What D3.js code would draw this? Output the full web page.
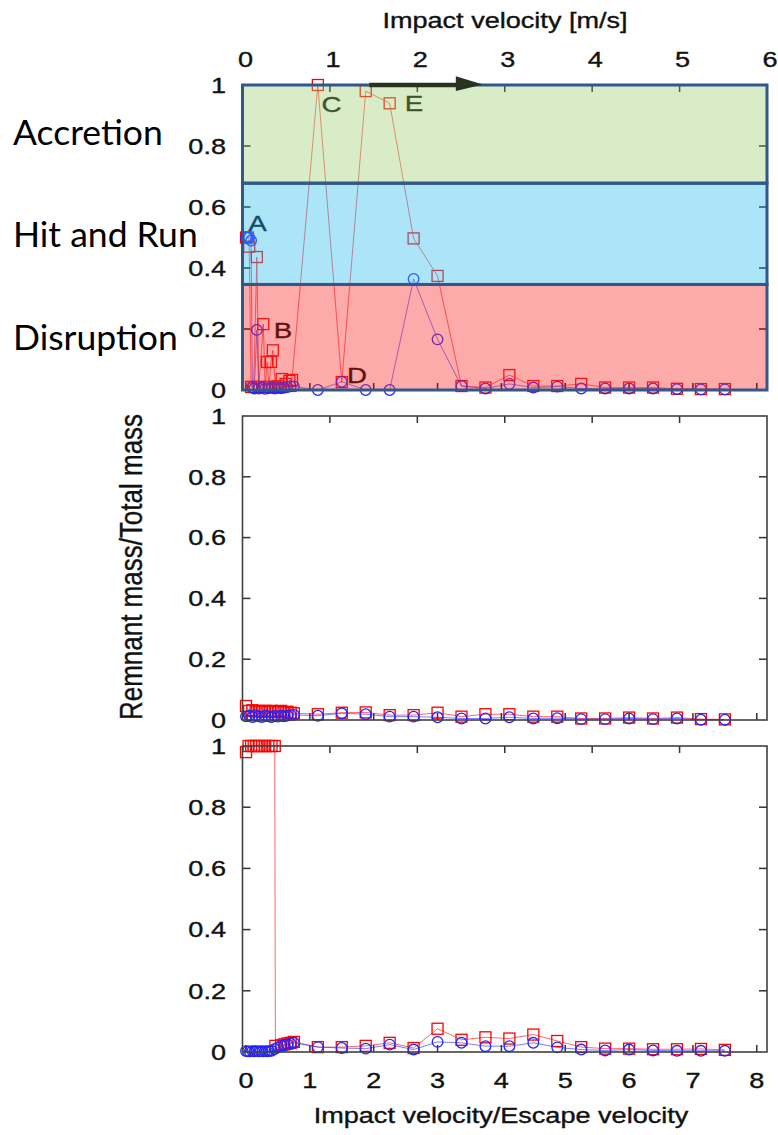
<!DOCTYPE html>
<html>
<head>
<meta charset="utf-8">
<script src="https://cdn.jsdelivr.net/npm/d3@7"></script>
<style>
  html, body { margin: 0; padding: 0; background: #fff; }
  svg { display: block; }
</style>
</head>
<body>
<script>
// ---- Data -------------------------------------------------------------
// Impact velocity / escape velocity for the regular runs
const vHigh = [1.125, 1.5, 1.875, 2.25, 2.625, 3, 3.375, 3.75, 4.125, 4.5, 4.875, 5.25, 5.625, 6, 6.375, 6.75, 7.125, 7.5];

// Panel 1 (regime map)
const topRedLowX  = [0, 0.03, 0.05, 0.08, 0.12, 0.17, 0.2, 0.27, 0.3, 0.33, 0.36, 0.39, 0.42, 0.46, 0.5, 0.56, 0.62, 0.68, 0.72];
const topRedLowY  = [0.5, 0.5, 0.47, 0.01, 0.01, 0.436, 0.01, 0.216, 0.01, 0.092, 0.01, 0.092, 0.13, 0.01, 0.012, 0.036, 0.02, 0.03, 0.033];
const topRedHighY = [1.0, 0.026, 0.98, 0.94, 0.497, 0.374, 0.013, 0.008, 0.049, 0.013, 0.013, 0.02, 0.008, 0.008, 0.008, 0.004, 0.003, 0.003];
const topBlueLowX  = [0, 0.02, 0.05, 0.08, 0.1, 0.13, 0.17, 0.2, 0.25, 0.3, 0.35, 0.4, 0.45, 0.5, 0.55, 0.6, 0.65, 0.7, 0.75];
const topBlueLowY  = [0.5, 0.5, 0.5, 0.49, 0.008, 0.005, 0.197, 0.005, 0.008, 0.004, 0.006, 0.008, 0.005, 0.007, 0.006, 0.008, 0.01, 0.012, 0.012];
const topBlueHighY = [0, 0.027, 0, 0, 0.364, 0.166, 0.013, 0.005, 0.02, 0.008, 0.011, 0.005, 0.005, 0.005, 0.005, 0.003, 0.002, 0.002];

// Panel 2
const midLowX      = [0, 0.05, 0.1, 0.15, 0.2, 0.25, 0.3, 0.35, 0.4, 0.45, 0.5, 0.55, 0.6, 0.65, 0.7, 0.75];
const midRedLowY   = [0.046, 0.03, 0.032, 0.028, 0.03, 0.027, 0.03, 0.028, 0.03, 0.026, 0.028, 0.03, 0.025, 0.027, 0.024, 0.022];
const midBlueLowY  = [0.012, 0.014, 0.01, 0.015, 0.012, 0.01, 0.014, 0.012, 0.01, 0.013, 0.011, 0.014, 0.012, 0.015, 0.016, 0.017];
const midRedHighY  = [0.019, 0.024, 0.025, 0.016, 0.016, 0.024, 0.011, 0.019, 0.019, 0.011, 0.011, 0.005, 0.005, 0.008, 0.005, 0.008, 0.003, 0.002];
const midBlueHighY = [0.014, 0.022, 0.019, 0.011, 0.011, 0.009, 0.005, 0.005, 0.009, 0.005, 0.006, 0.003, 0.003, 0.005, 0.003, 0.005, 0.001, 0.001];

// Panel 3
const botRedLowX   = [0, 0.04, 0.08, 0.12, 0.16, 0.2, 0.25, 0.3, 0.35, 0.4, 0.45, 0.46, 0.55, 0.6, 0.65, 0.7, 0.75];
const botRedLowY   = [0.98, 1, 1, 1, 1, 1, 1, 1, 1, 1, 1, 0.02, 0.022, 0.025, 0.028, 0.03, 0.033];
const botBlueLowX  = [0, 0.03, 0.06, 0.1, 0.13, 0.16, 0.2, 0.23, 0.26, 0.3, 0.33, 0.36, 0.4, 0.45, 0.5, 0.55, 0.6, 0.65, 0.7, 0.75];
const botBlueLowY  = [0.003, 0.002, 0.002, 0.003, 0.002, 0.003, 0.002, 0.003, 0.002, 0.003, 0.002, 0.003, 0.004, 0.01, 0.015, 0.02, 0.022, 0.025, 0.027, 0.03];
const botRedHighY  = [0.016, 0.016, 0.02, 0.03, 0.013, 0.076, 0.04, 0.048, 0.044, 0.057, 0.036, 0.016, 0.011, 0.011, 0.009, 0.009, 0.01, 0.007];
const botBlueHighY = [0.016, 0.013, 0.011, 0.024, 0.008, 0.033, 0.03, 0.019, 0.019, 0.03, 0.015, 0.008, 0.005, 0.008, 0.005, 0.004, 0.004, 0.004];

// Axis ticks and labels
const xTicks  = [0, 1, 2, 3, 4, 5, 6, 7, 8];
const x2Ticks = [0, 1, 2, 3, 4, 5, 6];
const yTicks  = [0, 0.2, 0.4, 0.6, 0.8, 1];
const yTickLabels = ["0", "0.2", "0.4", "0.6", "0.8", "1"];

// Regime bands on panel 1 (lower, upper) and their names
const bandNames  = ["Disruption", "Hit and Run", "Accretion"];
const bandLimits = [[0, 0.346], [0.346, 0.678], [0.678, 1]];
const bandTint   = ["rgb(248,43,43)", "rgb(48,188,238)", "rgb(158,208,118)"];

// Case markers on panel 1
const caseNames = ["A", "B", "C", "D", "E"];
const caseX     = [0.18, 0.58, 1.34, 1.74, 2.63];
const caseY     = [0.548, 0.197, 0.937, 0.049, 0.94];

// ---- Layout ------------------------------------------------------------
const W = 778, H = 1135;
const frameL = 242.5, frameR = 767;
const panels = [
  { top: 85,  bottom: 390 },
  { top: 416, bottom: 720 },
  { top: 746, bottom: 1052 }
];
const SX = 1.26;                 // horizontal stretch of the plot lettering
const FONT = "'Liberation Sans', Arial, Helvetica, sans-serif";
const RED = "rgb(255,0,0)", BLUE = "rgb(35,35,255)";

const svg = d3.select("body").append("svg")
  .attr("width", W).attr("height", H)
  .attr("viewBox", `0 0 ${W} ${H}`);
svg.append("rect").attr("width", W).attr("height", H).attr("fill", "#fff");

const x  = d3.scaleLinear().domain([-0.055, 8.16]).range([frameL, frameR]);
const x2 = d3.scaleLinear().domain([0, 6]).range([frameL, frameR]);

function stretchedText(g, px, py, str, size, anchor, fill) {
  const col = fill || "#111";
  return g.append("text")
    .attr("transform", `translate(${px},${py}) scale(${SX},1)`)
    .attr("text-anchor", anchor)
    .attr("font-family", FONT)
    .attr("font-size", size)
    .attr("fill", col)
    .attr("stroke", col).attr("stroke-width", 0.35)
    .text(str);
}

function join(lowX, lowY, highY) {
  return lowX.map((v, i) => ({ x: v, y: lowY[i] }))
    .concat(vHigh.map((v, i) => ({ x: v, y: highY[i] })));
}

function drawSeries(g, y, data, color, shape) {
  const line = d3.line().x(d => x(d.x)).y(d => y(d.y));
  g.append("path").datum(data)
    .attr("d", line).attr("fill", "none")
    .attr("stroke", color).attr("stroke-width", 1)
    .attr("stroke-opacity", 0.6);
  const m = g.append("g").attr("fill", "none").attr("stroke", color).attr("stroke-width", 1.3);
  if (shape === "square") {
    m.selectAll("rect").data(data).join("rect")
      .attr("x", d => x(d.x) - 5.5).attr("y", d => y(d.y) - 5.5)
      .attr("width", 11).attr("height", 11);
  } else {
    m.selectAll("circle").data(data).join("circle")
      .attr("cx", d => x(d.x)).attr("cy", d => y(d.y)).attr("r", 5.3);
  }
}

function drawTicks(g, y, p, color) {
  const t = g.append("g").attr("stroke", color).attr("stroke-width", 1.5);
  xTicks.forEach(v => {
    t.append("line").attr("x1", x(v)).attr("x2", x(v))
      .attr("y1", p.bottom).attr("y2", p.bottom - 7);
  });
  x2Ticks.slice(1, -1).forEach(v => {
    t.append("line").attr("x1", x2(v)).attr("x2", x2(v))
      .attr("y1", p.top).attr("y2", p.top + 7);
  });
  yTicks.slice(1, -1).forEach(v => {
    t.append("line").attr("x1", frameL).attr("x2", frameL + 8).attr("y1", y(v)).attr("y2", y(v));
    t.append("line").attr("x1", frameR).attr("x2", frameR - 8).attr("y1", y(v)).attr("y2", y(v));
  });
}

function yLabels(y) {
  yTicks.forEach((v, i) => {
    stretchedText(svg, 226, y(v) + 7.8, yTickLabels[i], 21.5, "end");
  });
}

const seriesSets = [
  [join(topRedLowX, topRedLowY, topRedHighY), join(topBlueLowX, topBlueLowY, topBlueHighY)],
  [join(midLowX, midRedLowY, midRedHighY),    join(midLowX, midBlueLowY, midBlueHighY)],
  [join(botRedLowX, botRedLowY, botRedHighY), join(botBlueLowX, botBlueLowY, botBlueHighY)]
];

panels.forEach((p, k) => {
  const y = d3.scaleLinear().domain([0, 1]).range([p.bottom, p.top]);
  const g = svg.append("g");
  drawTicks(g, y, p, k === 0 ? "#111" : "#333");
  drawSeries(g, y, seriesSets[k][0], RED, "square");
  drawSeries(g, y, seriesSets[k][1], BLUE, "circle");

  if (k === 0) {
    // case letters
    caseNames.forEach((c, i) => {
      stretchedText(g, x(caseX[i]), y(caseY[i]) + 8, c, 22, "middle", "#000");
    });
    // translucent regime bands laid over the plot
    bandLimits.forEach((b, i) => {
      g.append("rect")
        .attr("x", frameL).attr("width", frameR - frameL)
        .attr("y", y(b[1])).attr("height", y(b[0]) - y(b[1]))
        .attr("fill", bandTint[i]).attr("fill-opacity", 0.4);
    });
    // band outlines
    bandLimits.forEach(b => {
      g.append("rect")
        .attr("x", frameL).attr("width", frameR - frameL)
        .attr("y", y(b[1])).attr("height", y(b[0]) - y(b[1]))
        .attr("fill", "none").attr("stroke", "#30588a").attr("stroke-width", 3);
    });
    // direction arrow along the top edge
    g.append("line")
      .attr("x1", x2(1.45)).attr("x2", x2(2.45))
      .attr("y1", y(1)).attr("y2", y(1))
      .attr("stroke", "#26331f").attr("stroke-width", 4.5);
    g.append("path")
      .attr("d", `M${x2(2.44)},${y(1.029)} L${x2(2.75)},${y(1.002)} L${x2(2.44)},${y(0.98)} Z`)
      .attr("fill", "#26331f");
    // regime names
    bandNames.forEach((n, i) => {
      svg.append("text")
        .attr("x", 13).attr("y", [350, 247, 145][i])
        .attr("font-family", "Lato, 'Open Sans', sans-serif")
        .attr("font-size", 35.5).attr("fill", "#000")
        .text(n);
    });
  } else {
    g.append("rect")
      .attr("x", frameL).attr("y", p.top)
      .attr("width", frameR - frameL).attr("height", p.bottom - p.top)
      .attr("fill", "none").attr("stroke", "#404040").attr("stroke-width", 1.6);
  }
  yLabels(y);
});

// top axis (impact velocity in m/s)
x2Ticks.forEach(v => stretchedText(svg, x2(v) + 3, 67, String(v), 21.5, "middle"));
stretchedText(svg, 505, 28, "Impact velocity [m/s]", 21.5, "middle");

// bottom axis (normalised impact velocity)
xTicks.forEach(v => stretchedText(svg, x(v), 1088, String(v), 21.5, "middle"));
stretchedText(svg, 501, 1123, "Impact velocity/Escape velocity", 21.5, "middle");

// shared y-axis title
svg.append("text")
  .attr("transform", `translate(142,567) scale(1.2,1) rotate(-90)`)
  .attr("text-anchor", "middle")
  .attr("font-family", FONT)
  .attr("font-size", 26)
  .attr("fill", "#111")
  .attr("stroke", "#111").attr("stroke-width", 0.3)
  .text("Remnant mass/Total mass");
</script>
</body>
</html>
